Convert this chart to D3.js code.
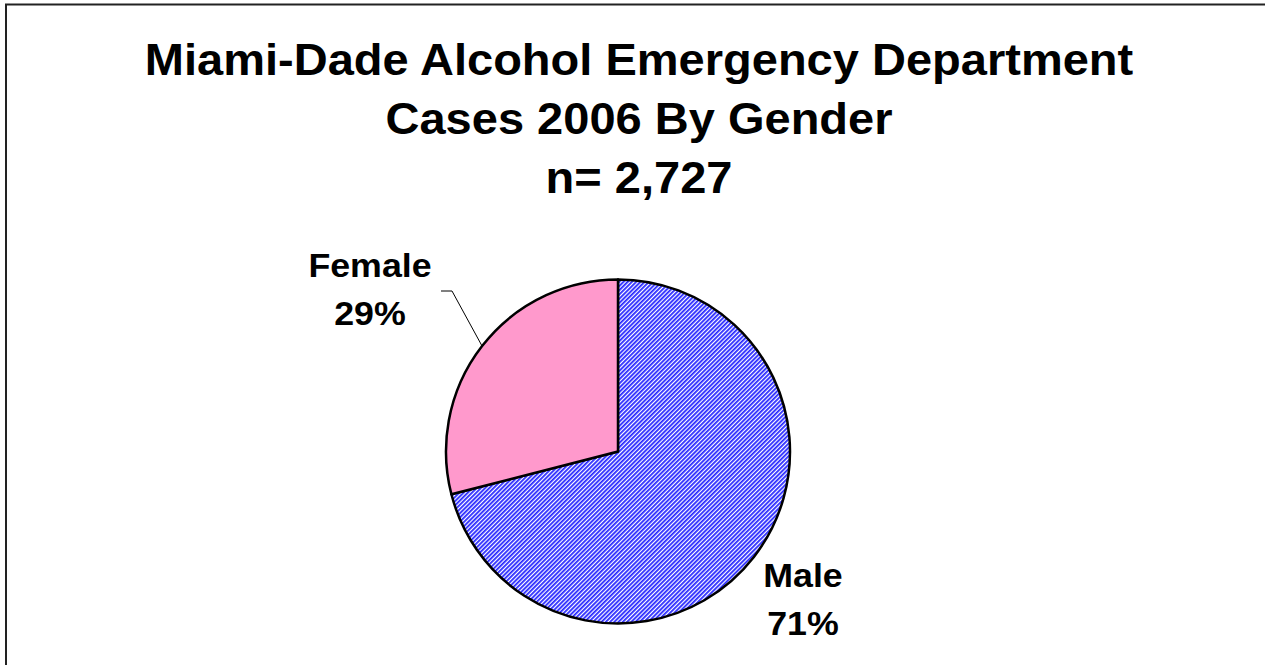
<!DOCTYPE html>
<html>
<head>
<meta charset="utf-8">
<script src="https://cdn.jsdelivr.net/npm/d3@7"></script>
<style>
  body { margin: 0; background: #fff; }
  text { font-family: "Liberation Sans", Arial, sans-serif; font-weight: bold; fill: #000; }
</style>
</head>
<body>
<svg id="chart" width="1265" height="665"></svg>
<script>
// data
var titleLines = ["Miami-Dade Alcohol Emergency Department", "Cases 2006 By Gender", "n= 2,727"];
var genders = ["Male", "Female"];
var percents = [71, 29];

var svg = d3.select("#chart"),
    width = +svg.attr("width"),
    height = +svg.attr("height"),
    radius = 172,
    cx = 618,
    cy = 451.5;

// frame (top + left edge only)
svg.append("path")
    .attr("d", "M6," + height + "V4.5H" + width)
    .attr("fill", "none")
    .attr("stroke", "#222")
    .attr("stroke-width", 2);

// hatch for Male slice
var defs = svg.append("defs");
var hatch = defs.append("pattern")
    .attr("id", "hatch")
    .attr("patternUnits", "userSpaceOnUse")
    .attr("width", 3)
    .attr("height", 3)
    .attr("patternTransform", "rotate(45)");
hatch.append("rect").attr("width", 3).attr("height", 3).attr("fill", "#fff");
hatch.append("line")
    .attr("x1", 0.9).attr("y1", 0).attr("x2", 0.9).attr("y2", 3)
    .attr("stroke", "#2828ff")
    .attr("stroke-width", 1.8);

var color = d3.scaleOrdinal(genders, ["url(#hatch)", "#ff99cc"]);

// title
svg.append("g").selectAll("text")
    .data(titleLines)
    .enter().append("text")
    .attr("transform", function (d, i) {
        return "translate(639," + (75 + i * 59) + ") scale(1.045,1)";
    })
    .attr("text-anchor", "middle")
    .style("font-size", "45px")
    .text(function (d) { return d; });

var pie = d3.pie()
    .sort(null)
    .value(function (d, i) { return percents[i]; });

var arc = d3.arc()
    .outerRadius(radius)
    .innerRadius(0);

var slices = pie(genders);

var g = svg.append("g").attr("transform", "translate(" + cx + "," + cy + ")");

g.selectAll(".arc")
    .data(slices)
    .enter().append("path")
    .attr("class", "arc")
    .attr("d", arc)
    .attr("fill", function (d) { return color(d.data); })
    .attr("stroke", "#000")
    .attr("stroke-width", 2.5)
    .attr("stroke-linejoin", "round");

// leader line for Female
var fem = slices[1],
    mid = (fem.startAngle + fem.endAngle) / 2,
    ex = cx + radius * Math.sin(mid),
    ey = cy - radius * Math.cos(mid);
svg.append("path")
    .attr("d", "M441,291H452L" + ex + "," + ey)
    .attr("fill", "none")
    .attr("stroke", "#000")
    .attr("stroke-width", 1);

// slice labels
var labelPos = { "Male": [803, 587], "Female": [370, 277] };
slices.forEach(function (d) {
    var p = labelPos[d.data];
    var t = svg.append("g").attr("transform", "translate(" + p[0] + "," + p[1] + ") scale(1.1,1)");
    t.append("text")
        .attr("text-anchor", "middle")
        .style("font-size", "32.5px")
        .text(d.data);
    t.append("text")
        .attr("text-anchor", "middle")
        .attr("y", 48)
        .style("font-size", "32.5px")
        .text(percents[d.index] + "%");
});
</script>
</body>
</html>
